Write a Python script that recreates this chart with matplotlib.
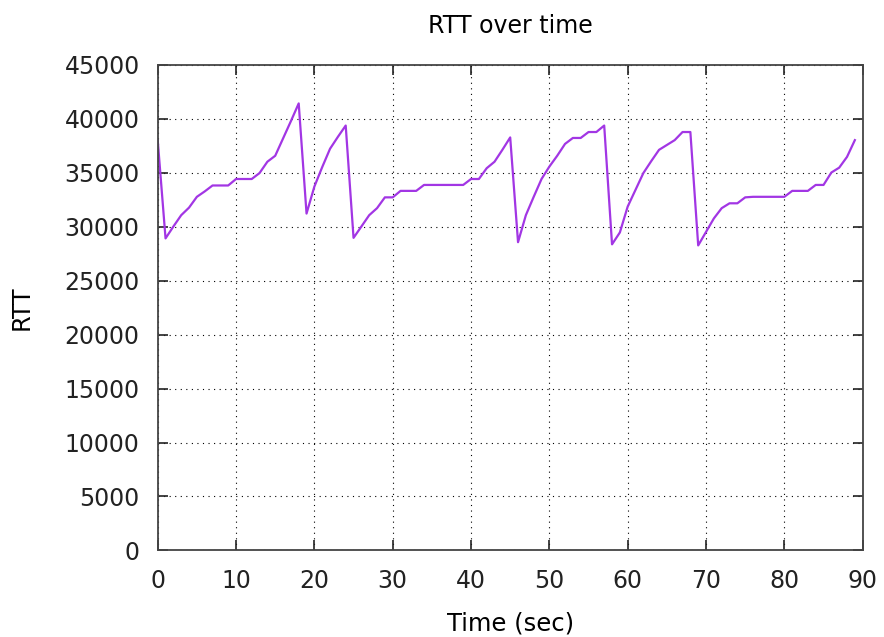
import matplotlib
matplotlib.use('Agg')
import matplotlib.pyplot as plt

# RTT samples, one per second
time_sec = [0, 1, 2, 3, 4, 5, 6, 7, 8, 9,
            10, 11, 12, 13, 14, 15, 16, 17, 18, 19,
            20, 21, 22, 23, 24, 25, 26, 27, 28, 29,
            30, 31, 32, 33, 34, 35, 36, 37, 38, 39,
            40, 41, 42, 43, 44, 45, 46, 47, 48, 49,
            50, 51, 52, 53, 54, 55, 56, 57, 58, 59,
            60, 61, 62, 63, 64, 65, 66, 67, 68, 69,
            70, 71, 72, 73, 74, 75, 76, 77, 78, 79,
            80, 81, 82, 83, 84, 85, 86, 87, 88, 89]
rtt = [38000, 28900, 30000, 31050, 31750, 32750, 33250, 33800, 33800, 33800,
       34400, 34400, 34400, 34950, 36000, 36550, 38150, 39750, 41400, 31200,
       33700, 35500, 37200, 38300, 39350, 28950, 30000, 31050, 31700, 32700,
       32700, 33300, 33300, 33300, 33850, 33850, 33850, 33850, 33850, 33850,
       34400, 34400, 35400, 36000, 37100, 38250, 28550, 31050, 32750, 34400,
       35550, 36550, 37650, 38200, 38200, 38750, 38750, 39350, 28350, 29450,
       31850, 33400, 34950, 36050, 37100, 37550, 38000, 38750, 38750, 28250,
       29500, 30750, 31700, 32150, 32150, 32700, 32750, 32750, 32750, 32750,
       32750, 33300, 33300, 33300, 33850, 33850, 35000, 35450, 36450, 38000]

fig = plt.figure(figsize=(8.84, 6.37), dpi=100)
ax = fig.add_axes([0.1784, 0.1358, 0.7975, 0.7629])

ax.plot(time_sec, rtt, color='#a236e4', linewidth=1.6)

ax.set_xlim(0, 90)
ax.set_ylim(0, 45000)
ax.set_xticks(range(0, 91, 10))
ax.set_yticks(range(0, 45001, 5000))

ax.grid(True, color='black', linestyle=(0, (1, 4)), linewidth=0.8)
ax.tick_params(direction='in', length=7, width=1.2, top=True, right=True,
               labelsize=17, colors='#222222')
ax.tick_params(axis='y', pad=13)
ax.tick_params(axis='x', pad=13)
for s in ax.spines.values():
    s.set_linewidth(1.3)
    s.set_color('#444444')

ax.set_title('RTT over time', fontsize=17, pad=23)
ax.set_xlabel('Time (sec)', fontsize=17.5, labelpad=14)
ax.set_ylabel('RTT', fontsize=17.5, labelpad=22)

fig.savefig('out.png', dpi=100)
